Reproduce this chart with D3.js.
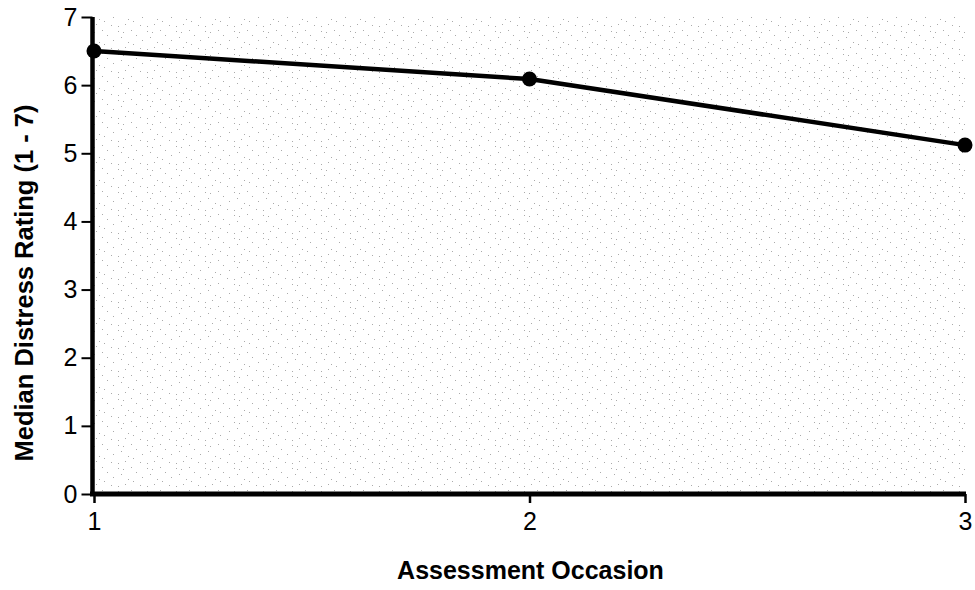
<!DOCTYPE html>
<html><head><meta charset="utf-8">
<script src="https://cdn.jsdelivr.net/npm/d3@7"></script>
<style>body{margin:0;background:#fff}svg{display:block}</style>
</head><body>
<svg id="c" width="975" height="590"></svg>
<script>
const occasions = [1, 2, 3];
const medianDistress = [6.5, 6.09, 5.12];
const yTicks = [0, 1, 2, 3, 4, 5, 6, 7];
const xTicks = [1, 2, 3];
const xTitle = "Assessment Occasion";
const yTitle = "Median Distress Rating (1 - 7)";

const svg = d3.select("#c");
const x = d3.scaleLinear().domain([1, 3]).range([94, 965]);
const y = d3.scaleLinear().domain([0, 7]).range([494, 17]);

// stipple background pattern
const defs = svg.append("defs");
const pat = defs.append("pattern").attr("id", "stip").attr("patternUnits", "userSpaceOnUse")
  .attr("width", 29).attr("height", 23);
const dots = [[2,3],[9,1],[15,7],[20,12],[5,14],[12,19],[24,2],[7,9],[26,17],[17,21],[2,8]];
dots.forEach(d => pat.append("rect").attr("x", d[0]).attr("y", d[1]).attr("width", 1).attr("height", 1).attr("fill", "#aaa"));
svg.append("rect").attr("x", x(1)).attr("y", y(7)).attr("width", x(3) - x(1)).attr("height", y(0) - y(7))
  .attr("fill", "url(#stip)");

const font = "'Liberation Sans', Arial, Helvetica, sans-serif";

// y axis
const ya = svg.append("g").attr("transform", `translate(${x(1) - 1.5},0)`)
  .call(d3.axisLeft(y).tickValues(yTicks).tickSize(11).tickPadding(4).tickFormat(d3.format("d")));
ya.select(".domain").attr("stroke", "#000").attr("stroke-width", 4.5).attr("d", `M0,${y(7)}V${y(0) + 2}`);
ya.selectAll(".tick line").attr("stroke", "#000").attr("stroke-width", 2);
ya.selectAll(".tick text").attr("font-family", font).attr("font-size", 25).attr("fill", "#000");

// x axis
const xa = svg.append("g").attr("transform", `translate(0,${y(0)})`)
  .call(d3.axisBottom(x).tickValues(xTicks).tickSize(9).tickPadding(9).tickFormat(d3.format("d")));
xa.select(".domain").attr("stroke", "#000").attr("stroke-width", 5).attr("d", `M${x(1) - 4},0H${x(3) + 1}`);
xa.selectAll(".tick line").attr("stroke", "#000").attr("stroke-width", 2.5);
xa.selectAll(".tick text").attr("font-family", font).attr("font-size", 25).attr("fill", "#000");

// line
const pts = occasions.map((o, i) => [o, medianDistress[i]]);
svg.append("path").datum(pts)
  .attr("d", d3.line().x(d => x(d[0])).y(d => y(d[1])))
  .attr("fill", "none").attr("stroke", "#000").attr("stroke-width", 4.5).attr("stroke-linejoin", "round");
svg.selectAll("circle.pt").data(pts).join("circle").attr("class", "pt")
  .attr("cx", d => x(d[0])).attr("cy", d => y(d[1])).attr("r", 7.5).attr("fill", "#000");

// titles
svg.append("text").attr("x", x(2) + 1).attr("y", 579).attr("text-anchor", "middle")
  .attr("font-family", font).attr("font-weight", "bold").attr("font-size", 25).text(xTitle);
svg.append("text").attr("transform", `translate(33,283) rotate(-90)`).attr("text-anchor", "middle")
  .attr("font-family", font).attr("font-weight", "bold").attr("font-size", 25.5).text(yTitle);
</script>
</body></html>
